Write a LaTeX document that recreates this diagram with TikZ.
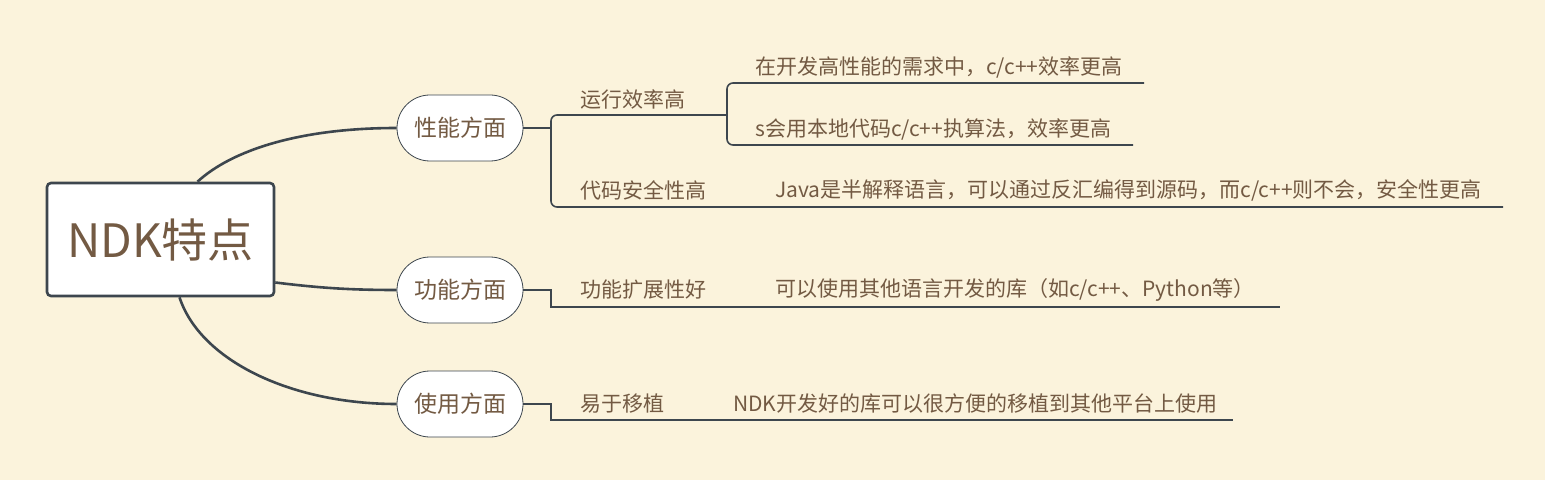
\documentclass[tikz,border=0pt]{standalone}
\usepackage{fontspec}
\setmainfont{Noto Sans CJK SC}
\definecolor{paper}{HTML}{FBF3DC}
\definecolor{ink}{HTML}{735A43}
\definecolor{wire}{HTML}{3D464E}
\tikzset{
  root/.style={draw=wire, line width=2.6pt, fill=white, rounded corners=4pt,
    minimum width=227pt, minimum height=113pt, text=ink, font=\fontsize{46}{50}\selectfont},
  branch/.style={draw=wire, line width=0.8pt, fill=white, rounded corners=33pt,
    minimum width=126pt, minimum height=66pt, text=ink, font=\fontsize{23}{26}\selectfont},
  topic/.style={anchor=west, inner sep=0pt, text=ink, font=\fontsize{21}{24}\selectfont},
  limb/.style={wire, line width=2.6pt},
  twig/.style={wire, line width=1.6pt}
}
\begin{document}
\begin{tikzpicture}[x=1pt,y=1pt]

\fill[paper] (0,0) rectangle (1545,480);
\useasboundingbox (0,0) rectangle (1545,480);

% main nodes
\node[root] (ndk) at (160.5,240.5) {NDK特点};
\node[branch] (perf) at (460,352) {性能方面};
\node[branch] (func) at (460,190) {功能方面};
\node[branch] (use) at (460,76) {使用方面};

% second level
\node[topic] (run) at (580,381) {运行效率高};
\node[topic] (safe) at (580,290) {代码安全性高};
\node[topic] (ext) at (580,190) {功能扩展性好};
\node[topic] (port) at (580,76) {易于移植};

% leaves
\node[topic] (fast) at (755,413) {在开发高性能的需求中，c/c++效率更高};
\node[topic] (algo) at (755,351) {s会用本地代码c/c++执算法，效率更高};
\node[topic] (java) at (775,290) {Java是半解释语言，可以通过反汇编得到源码，而c/c++则不会，安全性更高};
\node[topic] (lib) at (775,190) {可以使用其他语言开发的库（如c/c++、Python等）};
\node[topic] (move) at (733,76) {NDK开发好的库可以很方便的移植到其他平台上使用};

% joints
\coordinate (k1) at (551,352);
\coordinate (k2) at (551,190);
\coordinate (k3) at (551,76);
\coordinate (r0) at (727,365);
\coordinate (r1) at (1144,397);
\coordinate (r2) at (1133,335);
\coordinate (s1) at (1503,273);
\coordinate (e1) at (1280,173);
\coordinate (p1) at (1233,60);

% curves from the centre
\draw[limb] (ndk.north) ++(37,0) .. controls (232,330) and (300,352) .. (perf.west);
\draw[limb] (ndk.east) ++(0,-43) .. controls (320,192) and (350,190) .. (func.west);
\draw[limb] (ndk.south) ++(19,0) .. controls (200,120) and (290,76) .. (use.west);

% brackets
\draw[twig] (perf.east) -- (k1);
\draw[twig, rounded corners=6pt] (r0) -- (k1 |- r0) -- (k1 |- s1) -- (s1);
\draw[twig, rounded corners=6pt] (r1) -- (r0 |- r1) -- (r0 |- r2) -- (r2);
\draw[twig] (func.east) -- (k2) -- (k2 |- e1) -- (e1);
\draw[twig] (use.east) -- (k3) -- (k3 |- p1) -- (p1);

\end{tikzpicture}
\end{document}
